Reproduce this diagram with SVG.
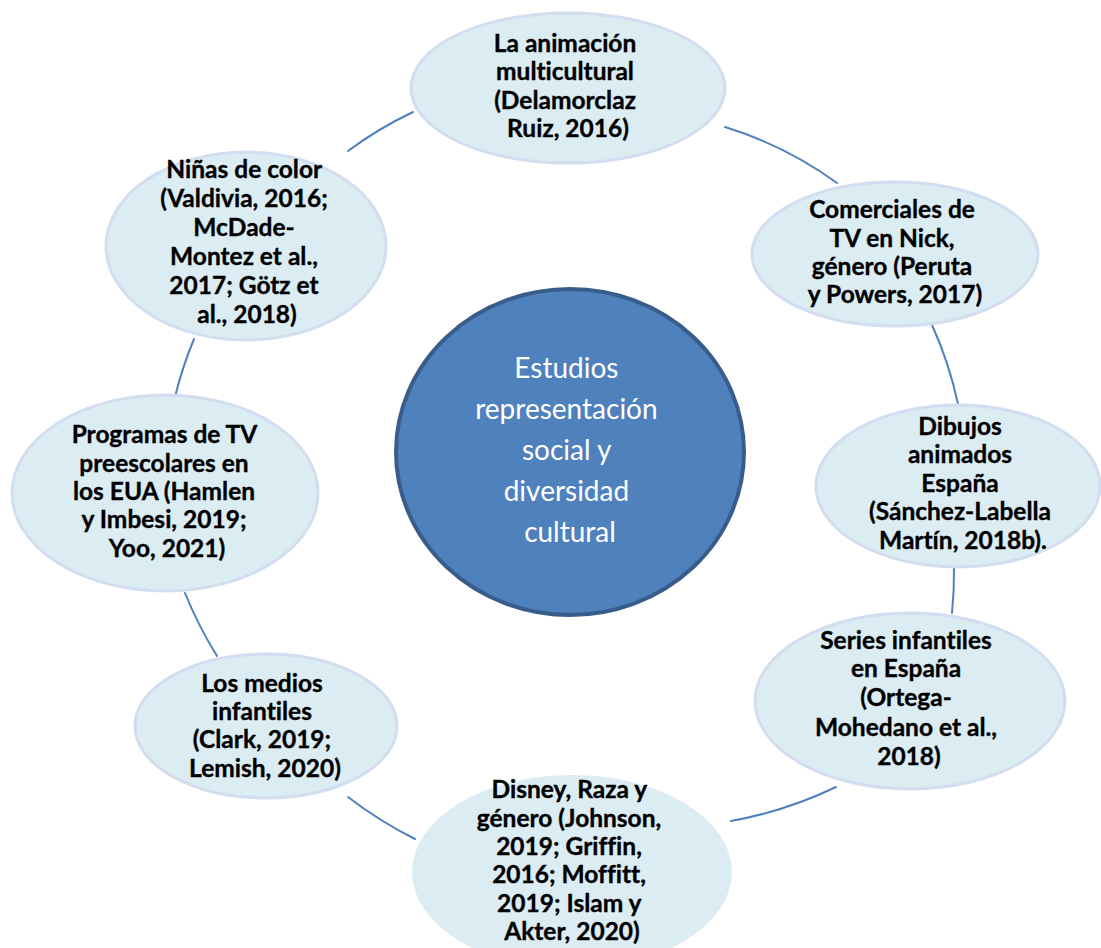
<svg xmlns="http://www.w3.org/2000/svg" width="1101" height="948" viewBox="0 0 1101 948">
  <style>
    .bubble { fill: #DBECF3; stroke: #D2DEEF; stroke-width: 3; }
    .bubble.plain { stroke: none; }
    .hub { fill: #4F81BD; stroke: #385D8A; stroke-width: 4; }
    .lbl { font-family: Lato, "Liberation Sans", sans-serif; font-weight: 700; font-size: 24.5px; fill: #000; text-anchor: middle; font-variant-ligatures: none; stroke: #000; stroke-width: 0.35px; }
    .hubtxt { font-family: Lato, "Liberation Sans", sans-serif; font-size: 28px; fill: #FFFFFF; text-anchor: middle; font-variant-ligatures: none; }
    .link { fill: none; stroke: #4F81BD; stroke-width: 2; stroke-linecap: round; }
  </style>
  <rect width="1101" height="948" fill="#FFFFFF"/>

  <!-- ring of connectors between neighbouring topics -->
  <g id="connectors">
    <path class="link" d="M348,151 A390,390 0 0 1 413,112"/>
    <path class="link" d="M725,127 A380,380 0 0 1 837,183"/>
    <path class="link" d="M932,325 A390,390 0 0 1 958,404"/>
    <path class="link" d="M954,567 A400,400 0 0 1 952,613"/>
    <path class="link" d="M836,787 A410,410 0 0 1 731,821"/>
    <path class="link" d="M415,839 A410,410 0 0 1 348,797"/>
    <path class="link" d="M217,656 A408,408 0 0 1 185,593"/>
    <path class="link" d="M175,397 A395,395 0 0 1 194,339"/>
  </g>

  <g id="hub">
    <ellipse class="hub" cx="570" cy="452" rx="174" ry="163"/>
    <text class="hubtxt">
      <tspan x="570" y="378">Estudios</tspan>
      <tspan x="570" y="419">representación</tspan>
      <tspan x="570" y="460">social y</tspan>
      <tspan x="570" y="501">diversidad</tspan>
      <tspan x="570" y="542">cultural</tspan>
    </text>
  </g>

  <g id="animacion-multicultural">
    <ellipse class="bubble" cx="568" cy="88" rx="157" ry="75"/>
    <text class="lbl">
      <tspan x="568" y="52">La animación</tspan>
      <tspan x="568" y="80">multicultural</tspan>
      <tspan x="568" y="109">(Delamorclaz</tspan>
      <tspan x="568" y="137">Ruiz, 2016)</tspan>
    </text>
  </g>

  <g id="comerciales-nick">
    <ellipse class="bubble" cx="895" cy="254" rx="143" ry="72"/>
    <text class="lbl">
      <tspan x="895" y="218">Comerciales de</tspan>
      <tspan x="895" y="247">TV en Nick,</tspan>
      <tspan x="895" y="275">género (Peruta</tspan>
      <tspan x="895" y="303">y Powers, 2017)</tspan>
    </text>
  </g>

  <g id="dibujos-animados">
    <ellipse class="bubble" cx="958" cy="486" rx="142" ry="81"/>
    <text class="lbl">
      <tspan x="963" y="435">Dibujos</tspan>
      <tspan x="963" y="463">animados</tspan>
      <tspan x="963" y="492">España</tspan>
      <tspan x="963" y="520">(Sánchez-Labella</tspan>
      <tspan x="963" y="549">Martín, 2018b).</tspan>
    </text>
  </g>

  <g id="series-infantiles">
    <ellipse class="bubble" cx="910" cy="701" rx="155" ry="88"/>
    <text class="lbl">
      <tspan x="909" y="649">Series infantiles</tspan>
      <tspan x="909" y="677">en España</tspan>
      <tspan x="909" y="706">(Ortega-</tspan>
      <tspan x="909" y="736">Mohedano et al.,</tspan>
      <tspan x="909" y="765">2018)</tspan>
    </text>
  </g>

  <g id="disney">
    <ellipse class="bubble plain" cx="572" cy="872" rx="160" ry="97"/>
    <text class="lbl">
      <tspan x="572" y="798">Disney, Raza y</tspan>
      <tspan x="572" y="827">género (Johnson,</tspan>
      <tspan x="572" y="855">2019; Griffin,</tspan>
      <tspan x="572" y="883">2016; Moffitt,</tspan>
      <tspan x="572" y="912">2019; Islam y</tspan>
      <tspan x="572" y="940">Akter, 2020)</tspan>
    </text>
  </g>

  <g id="medios-infantiles">
    <ellipse class="bubble" cx="266" cy="726" rx="131" ry="72"/>
    <text class="lbl">
      <tspan x="265" y="692">Los medios</tspan>
      <tspan x="265" y="720">infantiles</tspan>
      <tspan x="265" y="748">(Clark, 2019;</tspan>
      <tspan x="265" y="777">Lemish, 2020)</tspan>
    </text>
  </g>

  <g id="programas-preescolares">
    <ellipse class="bubble" cx="165" cy="493" rx="153" ry="98"/>
    <text class="lbl">
      <tspan x="167" y="443">Programas de TV</tspan>
      <tspan x="167" y="472">preescolares en</tspan>
      <tspan x="167" y="500">los EUA (Hamlen</tspan>
      <tspan x="167" y="528">y Imbesi, 2019;</tspan>
      <tspan x="167" y="557">Yoo, 2021)</tspan>
    </text>
  </g>

  <g id="ninas-de-color">
    <ellipse class="bubble" cx="246" cy="246" rx="140" ry="94"/>
    <text class="lbl">
      <tspan x="247" y="178">Niñas de color</tspan>
      <tspan x="247" y="207">(Valdivia, 2016;</tspan>
      <tspan x="247" y="236">McDade-</tspan>
      <tspan x="247" y="265">Montez et al.,</tspan>
      <tspan x="247" y="294">2017; Götz et</tspan>
      <tspan x="247" y="323">al., 2018)</tspan>
    </text>
  </g>
</svg>
